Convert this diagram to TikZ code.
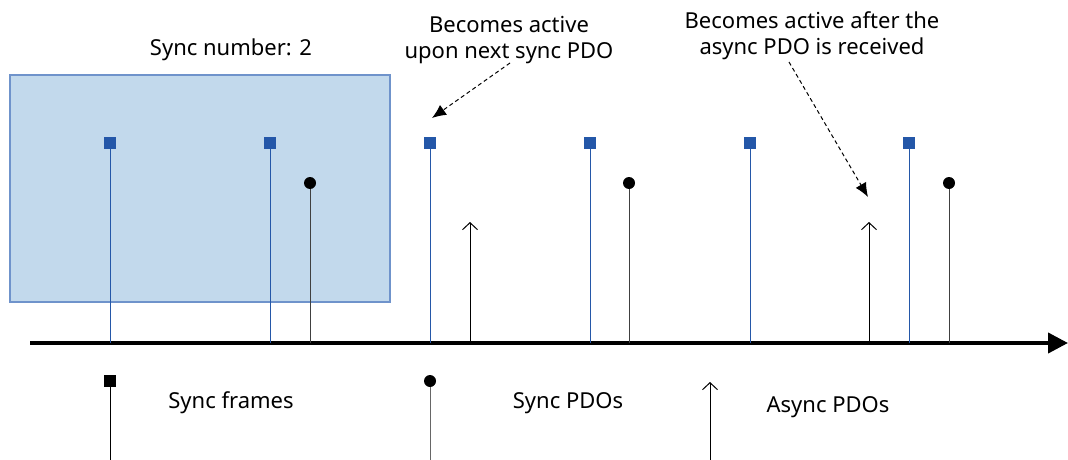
\documentclass[tikz,border=0pt]{standalone}
\usepackage{fontspec}
\setmainfont{Noto Sans}
\usetikzlibrary{arrows.meta}

\definecolor{syncblue}{RGB}{36,87,168}
\definecolor{windowfill}{RGB}{194,217,236}
\definecolor{windowline}{RGB}{111,147,203}

\begin{document}
\begin{tikzpicture}[x=1pt, y=-1pt, font=\fontsize{22}{26}\selectfont,
    frame/.style={fill=syncblue, minimum size=12pt, inner sep=0pt},
    pdo/.style={circle, fill=black, minimum size=12pt, inner sep=0pt},
    stem/.style={line width=1pt},
    async/.style={line width=1pt, -{Straight Barb[length=7pt,width=15pt]}},
    note/.style={dash pattern=on 4pt off 3pt, line width=1pt, -{Latex[length=14pt,width=12pt]}}]
    \useasboundingbox (0,0) rectangle (1068,460);

    % sync window
    \draw[windowline, fill=windowfill, line width=1.2pt] (10,75) rectangle (390,302);
    \node (sync number) at (231,50) {Sync number: 2};

    % time axis
    \coordinate (t0) at (30,343);
    \coordinate (t1) at (1068,343);
    \draw[line width=4pt, -{Triangle[length=20pt,width=20pt]}] (t0) -- (t1);

    % sync frames
    \foreach \x [count=\i] in {110,270,430,590,750,909} {
        \node[frame] (f\i) at (\x,143) {};
        \coordinate (fb\i) at (\x,343);
        \draw[stem, syncblue] (f\i.south) -- (fb\i);
    }

    % sync PDOs
    \foreach \x [count=\i] in {310,629,949} {
        \node[pdo] (p\i) at (\x,183) {};
        \coordinate (pb\i) at (\x,343);
        \draw[stem, black!75] (p\i.south) -- (pb\i);
    }

    % async PDOs
    \foreach \x [count=\i] in {470,869} {
        \coordinate (a\i) at (\x,222);
        \coordinate (ab\i) at (\x,343);
        \draw[async] (ab\i) -- (a\i);
    }

    % notes
    \node[align=center] (next sync) at (509,40) {Becomes active\\upon next sync PDO};
    \coordinate (next sync from) at (510,63);
    \coordinate (next sync to) at (432,118);
    \draw[note] (next sync from) -- (next sync to);

    \node[align=center] (after async) at (812,36) {Becomes active after the\\async PDO is received};
    \coordinate (after async from) at (789,62);
    \coordinate (after async to) at (868,197);
    \draw[note] (after async from) -- (after async to);

    % legend
    \node[frame, fill=black] (key frame) at (110,381) {};
    \coordinate (key frame end) at (110,460);
    \draw[stem] (key frame.south) -- (key frame end);
    \node (key frame text) at (231,403) {Sync frames};

    \node[pdo] (key pdo) at (430,381) {};
    \coordinate (key pdo end) at (430,460);
    \draw[stem, black!60] (key pdo.south) -- (key pdo end);
    \node (key pdo text) at (568,403) {Sync PDOs};

    \coordinate (key async) at (710,382);
    \coordinate (key async end) at (710,460);
    \draw[async] (key async end) -- (key async);
    \node (key async text) at (828,407) {Async PDOs};
\end{tikzpicture}
\end{document}
